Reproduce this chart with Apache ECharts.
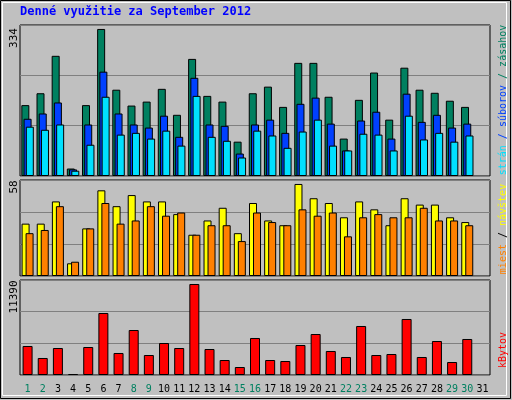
<!DOCTYPE html>
<html><head><meta charset="utf-8">
<script src="https://cdn.jsdelivr.net/npm/echarts@6/dist/echarts.min.js"></script>
<style>html,body{margin:0;padding:0;background:#c0c0c0}#c{width:512px;height:400px}</style>
</head><body><div id="c"></div>
<script>
const days = Array.from({length:31},(_, i)=>String(i+1));
const weekendDays = [1,2,8,9,15,16,22,23,29,30];
const zasahov = [161,188,273,17,161,334,196,160,169,198,139,266,182,169,78,188,203,157,257,257,180,85,173,235,128,246,196,189,171,157,null];
const suborov = [130,142,167,15,117,237,142,117,110,137,89,223,117,114,51,117,128,98,164,178,119,58,126,146,85,187,123,139,110,119,null];
const stran = [112,105,117,12,71,180,94,98,85,103,69,182,89,80,42,103,92,64,101,128,69,58,96,94,58,137,83,98,78,92,null];
const navstev = [33,33,47,8,30,54,44,51,47,47,39,26,35,43,27,46,35,32,58,49,46,37,47,42,32,49,45,45,37,34,null];
const miest = [27,29,44,9,30,46,33,35,44,38,40,26,32,32,22,40,34,32,42,38,40,25,37,39,37,37,43,35,35,32,null];
const kbytov = [3630,2128,3379,125,3504,7760,2754,5632,2503,4005,3379,11390,3254,1877,1001,4631,1877,1752,3755,5131,3004,2253,6133,2503,2628,7009,2253,4255,1627,4506,null];
const maxLabels = ['334','58','11390'];
const title = 'Denné využitie za September 2012';

const axMax = [343, 60.5, 11890];
const grids = [{top:25,h:151},{top:180,h:96},{top:280,h:95}];
const labelY = [38,187,297];
const mono = 'DejaVu Sans Mono';
const gridOpt = grids.map(g=>({left:20,right:22,top:g.top,height:g.h,show:true,borderColor:'#000',borderWidth:1,backgroundColor:'#c0c0c0'}));
const xAxes = grids.map((g,i)=>({type:'category',gridIndex:i,data:days,axisLine:{show:false},axisTick:{show:false},
  axisLabel:{show:i===2,interval:0,fontFamily:mono,fontSize:10,margin:9,color:(v)=>weekendDays.includes(+v)?'#008060':'#000'}}));
const yAxes = grids.map((g,i)=>({type:'value',gridIndex:i,min:0,max:axMax[i],interval:axMax[i]/3,axisLabel:{show:false},axisLine:{show:false},axisTick:{show:false},splitLine:{lineStyle:{color:'#808080',width:1}}}));
const bs = (name,data,color,xi,w,gap)=>({type:'bar',name,data,xAxisIndex:xi,yAxisIndex:xi,barWidth:w,barGap:gap,itemStyle:{color,borderColor:'#000',borderWidth:1},animation:false});
const series = [
  bs('zásahov',zasahov,'#008060',0,8,'-72%'),
  bs('súborov',suborov,'#0040ff',0,8,'-72%'),
  bs('strán',stran,'#00e0ff',0,8,'-72%'),
  bs('návštev',navstev,'#ffff00',1,8,'-50%'),
  bs('miest',miest,'#ff8000',1,8,'-50%'),
  bs('kBytov',kbytov,'#ff0000',2,10,'0%')
];
const vt = (x,y,rich,text)=>({type:'text',x,y,rotation:Math.PI/2,style:{text,rich,font:'10px '+mono,align:'center',verticalAlign:'middle'}});
const graphic = [
  {type:'rect',shape:{x:0.5,y:0.5,width:510,height:398},style:{fill:null,stroke:'#000',lineWidth:1},z:-1},
  {type:'rect',shape:{x:2.5,y:2.5,width:504,height:393},style:{fill:null,stroke:'#fff',lineWidth:1},z:-1},
  {type:'text',x:20,y:6,style:{text:title,font:'bold 12px '+mono,fill:'#0000ff'}},
  ...grids.map((g,i)=>({type:'text',x:14,y:labelY[i],rotation:Math.PI/2,style:{text:maxLabels[i],font:'11px '+mono,fill:'#000',align:'center',verticalAlign:'middle'}})),
  vt(503,100,{g:{fill:'#008060',font:'10px '+mono},b:{fill:'#0040ff',font:'10px '+mono},c:{fill:'#00e0ff',font:'10px '+mono}},'{c|strán} {b|/ súborov} {g|/ zásahov}'),
  vt(503,229,{y:{fill:'#ffff00',font:'10px '+mono},o:{fill:'#ff8000',font:'10px '+mono}},'{o|miest} / {y|návštev}'),
  vt(503,350,{r:{fill:'#ff0000',font:'10px '+mono}},'{r|kBytov}')
];
const chart = echarts.init(document.getElementById('c'),null,{renderer:'canvas'});
chart.setOption({backgroundColor:'#c0c0c0',animation:false,grid:gridOpt,xAxis:xAxes,yAxis:yAxes,series,graphic});
</script></body></html>
